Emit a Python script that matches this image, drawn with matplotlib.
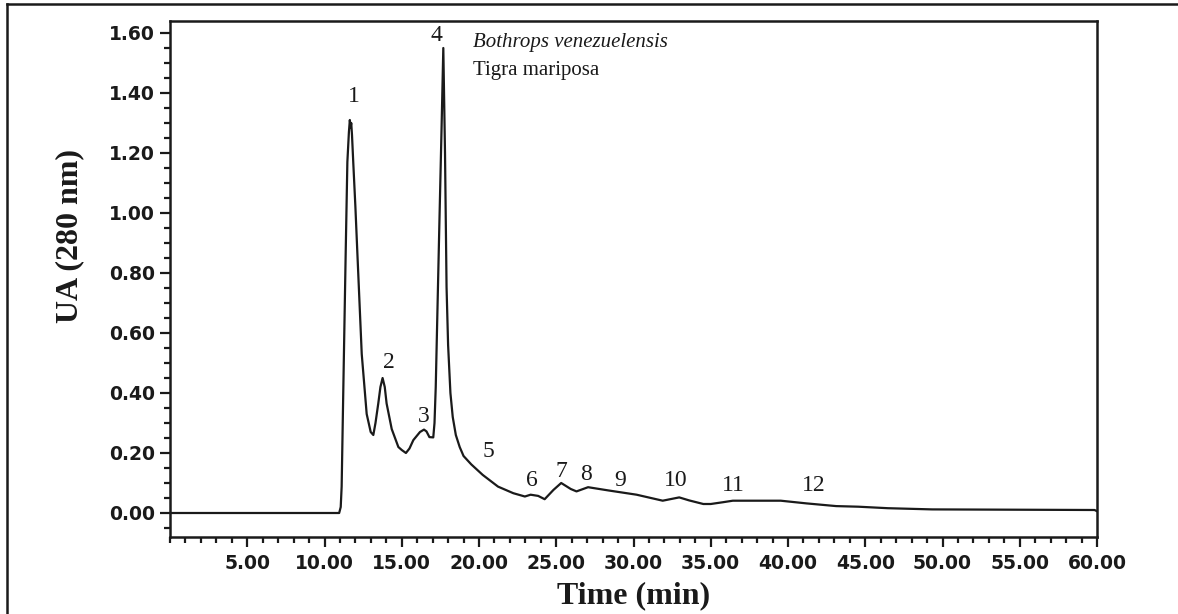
import matplotlib
matplotlib.use("Agg")
from matplotlib import pyplot as plt
from matplotlib.lines import Line2D
from matplotlib.ticker import MultipleLocator, FixedLocator, FormatStrFormatter

# chromatogram (time in min, absorbance at 280 nm)
time_min = [0.0, 10.95, 11.05, 11.11, 11.22, 11.37, 11.48, 11.58, 11.64, 11.69,
            11.73, 11.78, 11.86, 12.0, 12.13, 12.41, 12.73, 12.99, 13.16, 13.3,
            13.48, 13.62, 13.76, 13.9, 14.02, 14.35, 14.78, 15.0, 15.27, 15.5,
            15.75, 16.18, 16.44, 16.6, 16.79, 17.04, 17.12, 17.2, 17.43, 17.58,
            17.69, 17.8, 17.9, 18.0, 18.15, 18.3, 18.5, 18.75, 19.0, 19.5,
            20.24, 21.23, 22.22, 22.97, 23.34, 23.83, 24.25, 24.82, 25.32, 25.94,
            26.31, 27.06, 28.4, 30.2, 31.89, 32.96, 33.6, 34.52, 35.0, 35.8,
            36.43, 39.53, 41.2, 43.12, 44.55, 46.46, 49.33, 59.84, 60.0]
absorb = [0.0, 0.0, 0.02, 0.088, 0.42, 0.863, 1.17, 1.27, 1.31, 1.285,
          1.30, 1.26, 1.17, 1.02, 0.863, 0.53, 0.33, 0.27, 0.26, 0.30,
          0.365, 0.42, 0.45, 0.42, 0.365, 0.28, 0.22, 0.21, 0.20, 0.215,
          0.243, 0.27, 0.278, 0.272, 0.253, 0.252, 0.30, 0.42, 0.953, 1.29,
          1.55, 1.20, 0.753, 0.56, 0.40, 0.32, 0.26, 0.22, 0.19, 0.162,
          0.127, 0.088, 0.066, 0.055, 0.061, 0.057, 0.046, 0.077, 0.10, 0.08,
          0.072, 0.086, 0.075, 0.061, 0.041, 0.052, 0.042, 0.030, 0.030, 0.036,
          0.041, 0.041, 0.032, 0.023, 0.021, 0.016, 0.012, 0.010, 0.006]

peak_names = ["1", "2", "3", "4", "5", "6", "7", "8", "9", "10", "11", "12"]
peak_t = [11.93, 14.15, 16.4, 17.26, 20.6, 23.41, 25.32, 26.93, 29.16, 32.75, 36.48, 41.68]
peak_v = [1.39, 0.50, 0.32, 1.593, 0.204, 0.11, 0.138, 0.127, 0.11, 0.11, 0.093, 0.093]

x_major = [5, 10, 15, 20, 25, 30, 35, 40, 45, 50, 55, 60]

ink = "#1a1a1a"
serif = "Liberation Serif"

fig = plt.figure(figsize=(11.78, 6.14), dpi=100)
ax = fig.add_axes([170 / 1178, 1 - 537 / 614, (1097 - 170) / 1178, (537 - 21) / 614])

ax.plot(time_min, absorb, color=ink, lw=1.6)

ax.set_xlim(0, 60)
ax.set_ylim(-0.08, 1.64)

ax.xaxis.set_major_locator(FixedLocator(x_major))
ax.xaxis.set_minor_locator(MultipleLocator(1))
ax.yaxis.set_major_locator(MultipleLocator(0.2))
ax.yaxis.set_minor_locator(MultipleLocator(0.05))
ax.xaxis.set_major_formatter(FormatStrFormatter("%.2f"))
ax.yaxis.set_major_formatter(FormatStrFormatter("%.2f"))

ax.tick_params(which="both", direction="out", color=ink, width=1.6)
ax.tick_params(which="major", length=7, labelsize=13.5, labelcolor=ink)
ax.tick_params(which="minor", length=4)
ax.tick_params(axis="x", which="major", pad=5)
ax.tick_params(axis="y", which="major", pad=4)
for lab in ax.get_xticklabels() + ax.get_yticklabels():
    lab.set_fontweight("bold")
    lab.set_family("DejaVu Sans")

for s in ax.spines.values():
    s.set_linewidth(1.8)
    s.set_color(ink)

ax.set_xlabel("Time (min)", family=serif, fontweight="bold", fontsize=23, color=ink, labelpad=6)
ax.set_ylabel("UA (280 nm)", family=serif, fontweight="bold", fontsize=23, color=ink)
ax.yaxis.set_label_coords(-0.093, 0.583)

for name, t, v in zip(peak_names, peak_t, peak_v):
    ax.text(t, v, name, family=serif, fontsize=17, color=ink, ha="center", va="center")

ax.text(19.6, 1.555, "Bothrops venezuelensis", family=serif, style="italic",
        fontsize=15, color=ink, ha="left", va="baseline")
ax.text(19.6, 1.46, "Tigra mariposa", family=serif,
        fontsize=15, color=ink, ha="left", va="baseline")

# outer frame (top and left edges only visible in the reference)
fig.add_artist(Line2D([7 / 1178, 1], [1 - 4 / 614, 1 - 4 / 614], transform=fig.transFigure, color=ink, lw=1.8))
fig.add_artist(Line2D([7 / 1178, 7 / 1178], [0, 1 - 4 / 614], transform=fig.transFigure, color=ink, lw=1.8))

fig.savefig("out.png", dpi=100)
